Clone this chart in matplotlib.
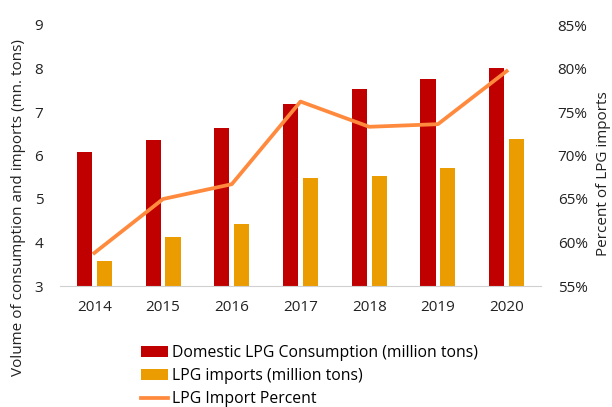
import numpy as np
from matplotlib import pyplot as plt
from matplotlib.ticker import FuncFormatter

years = ['2014', '2015', '2016', '2017', '2018', '2019', '2020']
consumption = [6.07, 6.36, 6.63, 7.18, 7.54, 7.75, 8.01]
imports = [3.57, 4.13, 4.43, 5.48, 5.54, 5.71, 6.39]
import_pct = [58.8, 65.0, 66.7, 76.2, 73.3, 73.6, 79.7]

plt.rcParams['font.family'] = ['Open Sans', 'DejaVu Sans']
plt.rcParams['font.size'] = 11

fig = plt.figure(figsize=(6.12, 4.07), dpi=100)
ax = fig.add_axes([60/612, 1-286/407, 481/612, 261/407])
x = np.arange(len(years))
w = 0.22

ax.bar(x - 0.145, consumption, w, color='#c00000', label='Domestic LPG Consumption (million tons)')
ax.bar(x + 0.145, imports, w, color='#eb9c00', label='LPG imports (million tons)')
ax.set_ylim(3, 9)
ax.set_xlim(-0.5, 6.5)
ax.set_xticks(x, years)
ax.set_yticks(range(3, 10))
ax.set_ylabel('Volume of consumption and imports (mn. tons)', color='#222222')
ax.yaxis.set_label_coords(-0.07, 0.30)

ax2 = ax.twinx()
ax2.plot(x, import_pct, color='#ff8a3d', lw=2.7, label='LPG Import Percent')
ax2.set_ylim(55, 85)
ax2.set_yticks(range(55, 90, 5))
ax2.yaxis.set_major_formatter(FuncFormatter(lambda v, p: f'{v:.0f}%'))
ax2.set_ylabel('Percent of LPG imports', color='#222222')
ax2.yaxis.set_label_coords(1.115, 0.43)

for a in (ax, ax2):
    for s in a.spines.values():
        s.set_visible(False)
    a.tick_params(length=0, colors='#222222', labelsize=11)
ax.spines['bottom'].set_visible(True)
ax.spines['bottom'].set_color('#d0d0d0')
ax.tick_params(axis='x', pad=10)
ax.tick_params(axis='y', pad=12)
ax2.tick_params(axis='y', pad=12)

h1, l1 = ax.get_legend_handles_labels()
h2, l2 = ax2.get_legend_handles_labels()
fig.legend(h1 + h2, l1 + l2, loc='upper left', bbox_to_anchor=(127/612, 1-331/407),
           frameon=False, handlelength=1.7, handleheight=0.65, handletextpad=0.25,
           labelspacing=0.45, fontsize=11.3)

fig.savefig('out.png', dpi=100)
